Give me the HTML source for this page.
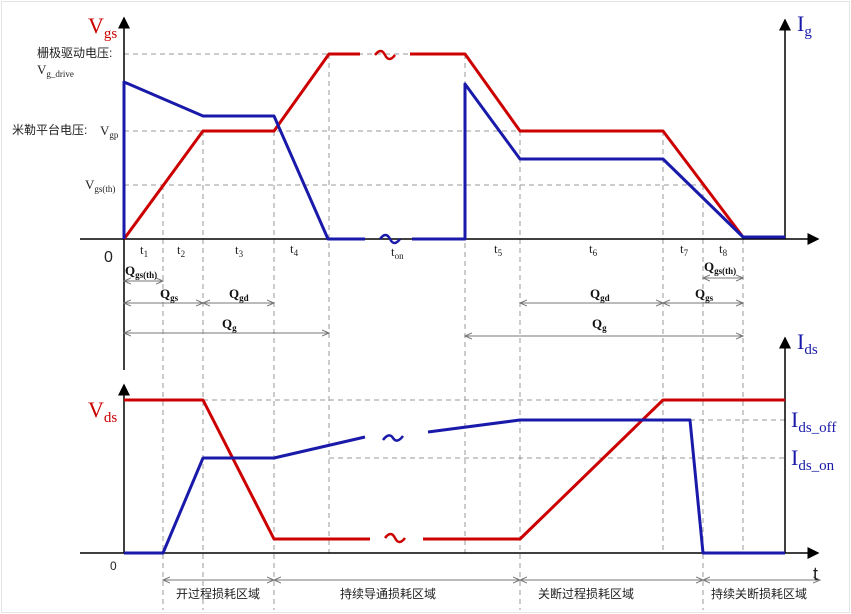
<!DOCTYPE html><html><head><style>body{margin:0;background:#fff}svg{display:block}</style></head><body>
<svg width="851" height="614" viewBox="0 0 851 614" xmlns="http://www.w3.org/2000/svg" font-family="Liberation Serif, serif">
<defs><marker id="a" markerWidth="8" markerHeight="8" refX="7" refY="4" orient="auto"><path d="M0,0L8,4L0,8z" fill="#000"/></marker>
<marker id="g" markerWidth="8" markerHeight="8" refX="7" refY="4" orient="auto-start-reverse"><path d="M0,1L7,4L0,7" fill="none" stroke="#777"/></marker></defs>
<rect x="1.5" y="1.5" width="848" height="611" fill="#fff" stroke="#e4e4e4"/>
<g stroke="#999" stroke-dasharray="5,4" stroke-width="1" fill="none">
<path d="M124 54H465M124 131H520M124 185H703"/>
<path d="M163 185V610M203 131V610M274 131V610M329 54V553M465 54V553M520 131V610M663 131V553M703 185V610M743 239V553"/>
<path d="M203 400H663M690 420H785M329 458H785"/>
</g>
<g stroke="#000" stroke-width="1.5" fill="none">
<path d="M124 370V18" marker-end="url(#a)"/>
<path d="M80 239H818" marker-end="url(#a)"/>
<path d="M785 239V20" marker-end="url(#a)"/>
<path d="M124 553V385" marker-end="url(#a)"/>
<path d="M785 553V338" marker-end="url(#a)"/>
<path d="M80 553H818" marker-end="url(#a)"/>
</g>
<g stroke="#777" stroke-width="1" fill="none" marker-start="url(#g)" marker-end="url(#g)">
<path d="M124 281H163"/><path d="M124 303H203"/><path d="M203 303H274"/><path d="M124 333H329"/>
<path d="M703 278H743"/><path d="M520 303H663"/><path d="M663 303H743"/><path d="M465 336H743"/>
<path d="M163 580H274"/><path d="M274 580H520"/><path d="M520 580H703"/><path d="M703 580H820"/>
</g>
<g fill="none" stroke-width="3" stroke-linejoin="round">
<path stroke="#c00" d="M124 239L203 131H274L329 54H360M410 54H465L520 131H663L743 237H785"/>
<path stroke="#c00" d="M375 55q6-8 10 0t10 0" stroke-width="2.5"/>
<path stroke="#1a1aaa" d="M124 239V82L203 116H274L328 239H365M412 239H465V84L520 159H663L743 237H785"/>
<path stroke="#1a1aaa" d="M380 239q6-8 10 0t10 0" stroke-width="2.5"/>
<path stroke="#c00" d="M124 400H203L274 539H370M423 539H520L663 400H785"/>
<path stroke="#c00" d="M385 538q6-8 10 0t10 0" stroke-width="2.5"/>
<path stroke="#1a1aaa" d="M124 553H163L203 458H274L365 437M428 432L520 420H690L703 553H785"/>
<path stroke="#1a1aaa" d="M383 440q6-8 10-2t10-2" stroke-width="2.5"/>
</g>
<g font-size="22" fill="#c00"><text x="88" y="33">V<tspan font-size="15" dy="5">gs</tspan></text><text x="88" y="417">V<tspan font-size="15" dy="5">ds</tspan></text></g>
<g font-size="22" fill="#1a1aaa"><text x="797" y="31">I<tspan font-size="15" dy="5">g</tspan></text><text x="797" y="349">I<tspan font-size="15" dy="5">ds</tspan></text>
<text x="791" y="427">I<tspan font-size="15" dy="5">ds_off</tspan></text><text x="791" y="465">I<tspan font-size="15" dy="5">ds_on</tspan></text></g>
<g font-size="12" fill="#222" font-family="Liberation Sans, Noto Sans CJK SC, sans-serif">
<text x="37" y="57">栅极驱动电压:</text><text x="12" y="134">米勒平台电压:</text>
<text x="176" y="598">开过程损耗区域</text><text x="340" y="598">持续导通损耗区域</text><text x="538" y="598">关断过程损耗区域</text><text x="711" y="598">持续关断损耗区域</text>
</g>
<g font-size="13" fill="#222">
<text x="37" y="74">V<tspan font-size="9" dy="3">g_drive</tspan></text>
<text x="100" y="135">V<tspan font-size="9" dy="3">gp</tspan></text>
<text x="85" y="189">V<tspan font-size="9" dy="3">gs(th)</tspan></text>
<text x="140" y="254">t<tspan font-size="9" dy="3">1</tspan></text><text x="177" y="254">t<tspan font-size="9" dy="3">2</tspan></text>
<text x="235" y="254">t<tspan font-size="9" dy="3">3</tspan></text><text x="290" y="253">t<tspan font-size="9" dy="3">4</tspan></text>
<text x="391" y="256">t<tspan font-size="9" dy="3">on</tspan></text><text x="494" y="253">t<tspan font-size="9" dy="3">5</tspan></text>
<text x="589" y="253">t<tspan font-size="9" dy="3">6</tspan></text><text x="680" y="253">t<tspan font-size="9" dy="3">7</tspan></text>
<text x="719" y="253">t<tspan font-size="9" dy="3">8</tspan></text>
</g>
<g font-size="13" fill="#111" font-weight="bold">
<text x="125" y="275">Q<tspan font-size="9" dy="3">gs(th)</tspan></text><text x="160" y="298">Q<tspan font-size="9" dy="3">gs</tspan></text>
<text x="229" y="298">Q<tspan font-size="9" dy="3">gd</tspan></text><text x="222" y="328">Q<tspan font-size="9" dy="3">g</tspan></text>
<text x="704" y="271">Q<tspan font-size="9" dy="3">gs(th)</tspan></text><text x="695" y="298">Q<tspan font-size="9" dy="3">gs</tspan></text>
<text x="590" y="298">Q<tspan font-size="9" dy="3">gd</tspan></text><text x="592" y="328">Q<tspan font-size="9" dy="3">g</tspan></text>
</g>
<g font-family="Liberation Sans, sans-serif" fill="#222"><text x="104" y="262" font-size="16">0</text><text x="110" y="570" font-size="12">0</text><text x="813" y="580" font-size="18">t</text></g>
</svg></body></html>
